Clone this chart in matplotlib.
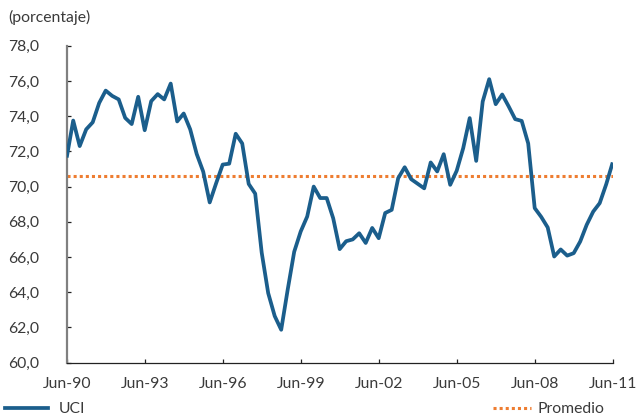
import matplotlib
matplotlib.use("Agg")
import matplotlib.pyplot as plt
from matplotlib.lines import Line2D
from matplotlib.ticker import FuncFormatter
import numpy as np

# Quarterly capacity utilisation (UCI), Jun-1990 .. Jun-2011
uci = [71.65, 73.75, 72.3, 73.25, 73.65, 74.75, 75.45, 75.15, 74.95, 73.9,
       73.55, 75.1, 73.2, 74.85, 75.25, 74.95, 75.85, 73.7, 74.15, 73.25,
       71.85, 70.85, 69.1, 70.2, 71.25, 71.3, 73.0, 72.45, 70.15, 69.6,
       66.25, 63.95, 62.65, 61.87, 64.15, 66.3, 67.45, 68.3, 70.0, 69.35,
       69.35, 68.2, 66.45, 66.9, 67.0, 67.35, 66.8, 67.65, 67.07, 68.5,
       68.68, 70.48, 71.1, 70.42, 70.16, 69.9, 71.37, 70.86, 71.84, 70.1,
       70.9, 72.18, 73.89, 71.46, 74.83, 76.1, 74.68, 75.23, 74.55, 73.83,
       73.73, 72.45, 68.78, 68.28, 67.68, 66.03, 66.43, 66.08, 66.22, 66.88,
       67.83, 68.58, 69.06, 70.13, 71.37]
promedio = 70.6
xtick_labels = ["Jun-90", "Jun-93", "Jun-96", "Jun-99", "Jun-02", "Jun-05", "Jun-08", "Jun-11"]
yticks = [60, 62, 64, 66, 68, 70, 72, 74, 76, 78]

FONT = ["Lato", "DejaVu Sans"]
plt.rcParams["font.family"] = FONT
TXT = "#3a3a3a"
BLUE = "#1b5e8c"
ORANGE = "#ee7d31"
FS = 11.3

fig = plt.figure(figsize=(6.39, 4.20), dpi=100)
ax = fig.add_axes([66.7 / 639, 1 - 362.7 / 420, (612.7 - 66.7) / 639, (362.7 - 45.7) / 420])

x = np.arange(len(uci))
ax.plot(x, uci, color=BLUE, lw=2.7, solid_joinstyle="round", solid_capstyle="butt", zorder=3)
ax.plot([x[0], x[-1]], [promedio, promedio], color=ORANGE, lw=2.2,
        linestyle=(0, (1, 1)), zorder=2)

ax.set_xlim(0, len(uci) - 1)
ax.set_ylim(60, 78)
ax.set_xticks(np.arange(0, len(uci), 12))
ax.set_xticklabels(xtick_labels)
ax.set_yticks(yticks)
ax.yaxis.set_major_formatter(FuncFormatter(lambda v, p: f"{v:.1f}".replace(".", ",")))

for s in ["top", "right"]:
    ax.spines[s].set_visible(False)
ax.spines["left"].set_color("#808080")
ax.spines["left"].set_linewidth(1.6)
ax.spines["bottom"].set_color("#222222")
ax.spines["bottom"].set_linewidth(0.9)

ax.tick_params(axis="y", direction="in", length=3, width=0.9, color="#222222",
               pad=20, labelsize=FS, labelcolor=TXT)
ax.tick_params(axis="x", direction="in", length=3, width=0.9, color="#222222",
               pad=10, labelsize=FS, labelcolor=TXT)

fig.text(8 / 639, 1 - 17 / 420, "(porcentaje)", fontsize=FS, color=TXT,
         va="center", ha="left")

h1 = Line2D([], [], color=BLUE, lw=2.7)
h2 = Line2D([], [], color=ORANGE, lw=2.2, linestyle=(0, (1, 1)))
leg1 = fig.legend([h1], ["UCI"], loc="center left", bbox_to_anchor=(0.0, 1 - 409 / 420),
                  frameon=False, fontsize=FS, handlelength=2.75, handletextpad=0.7,
                  borderaxespad=0, borderpad=0.3, labelcolor=TXT)
leg2 = fig.legend([h2], ["Promedio"], loc="center right", bbox_to_anchor=(604 / 639, 1 - 409 / 420),
                  frameon=False, fontsize=FS, handlelength=2.4, handletextpad=0.4,
                  borderaxespad=0, borderpad=0.0, labelcolor=TXT)

fig.savefig("out.png", dpi=100)
